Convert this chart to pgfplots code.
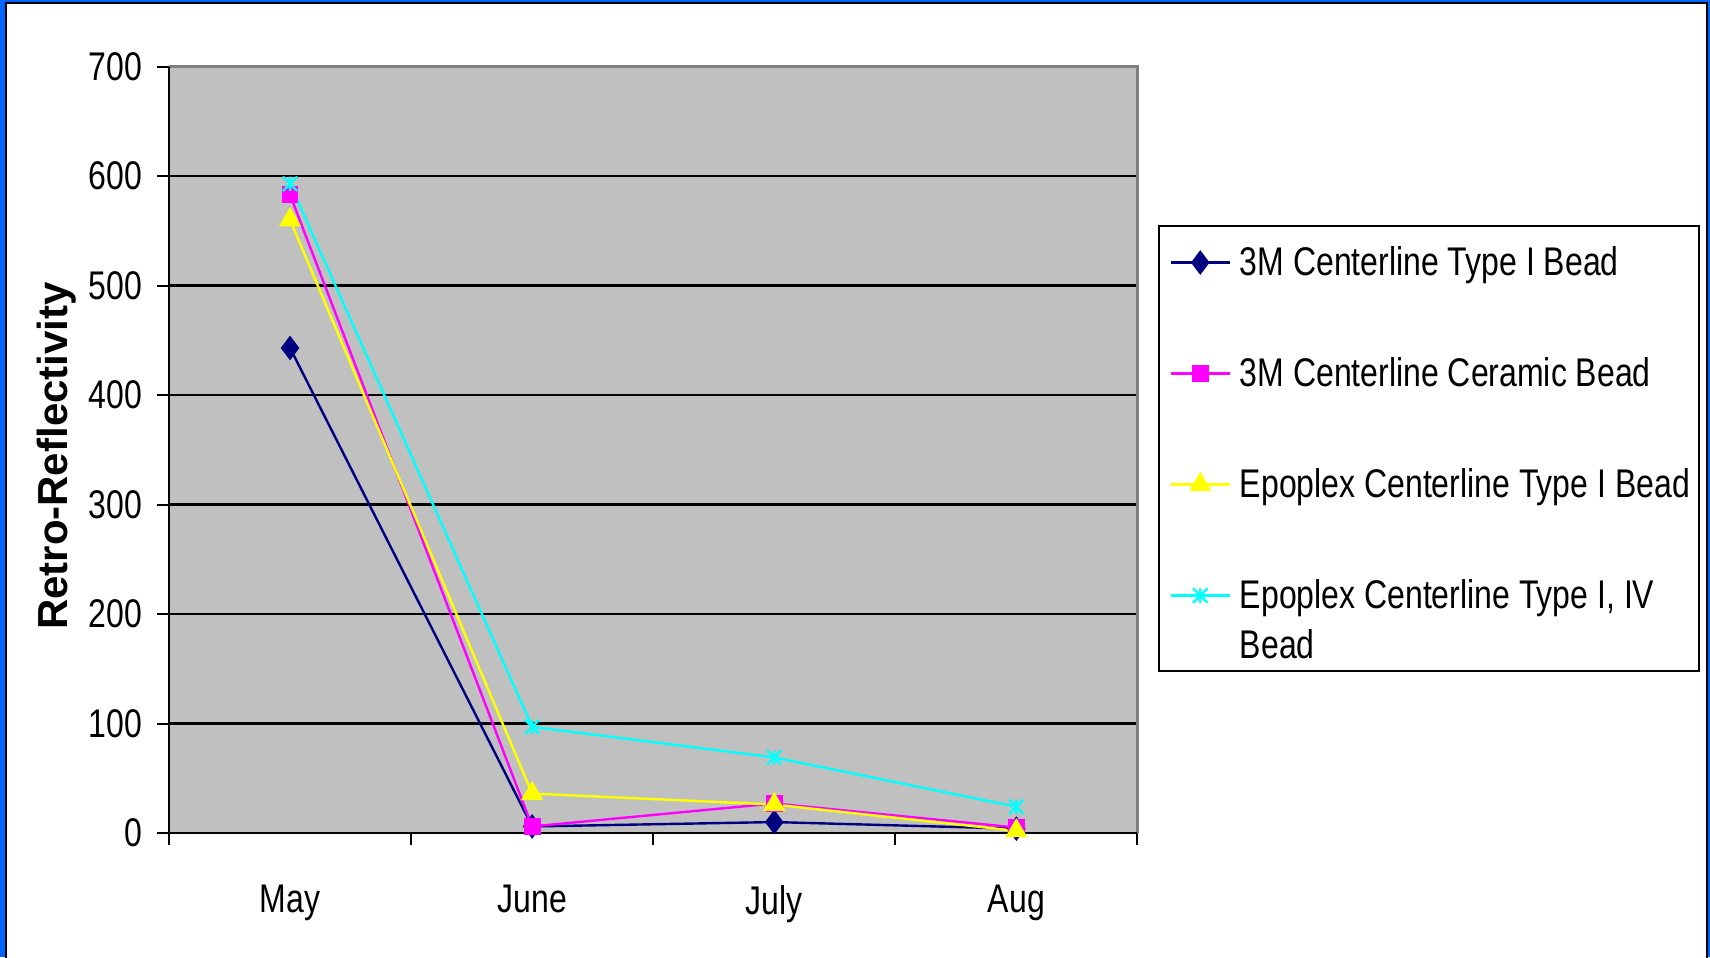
\documentclass[border=0pt]{standalone}
\usepackage{fontspec}
\setmainfont{Liberation Sans}[FakeStretch=0.8]
\newfontfamily\labfont{Liberation Sans}
\usepackage{pgfplots}
\pgfplotsset{compat=1.18}

\definecolor{frameblue}{RGB}{0,102,255}
\definecolor{plotgray}{RGB}{192,192,192}
\definecolor{bordergray}{RGB}{128,128,128}
\definecolor{sNavy}{RGB}{0,0,128}
\definecolor{sMagenta}{RGB}{255,0,255}
\definecolor{sYellow}{RGB}{255,255,0}
\definecolor{sCyan}{RGB}{0,255,255}

% Excel style star: an x with a vertical stroke
\pgfdeclareplotmark{xstar}{%
  \pgfpathmoveto{\pgfqpoint{-\pgfplotmarksize}{-\pgfplotmarksize}}%
  \pgfpathlineto{\pgfqpoint{\pgfplotmarksize}{\pgfplotmarksize}}%
  \pgfpathmoveto{\pgfqpoint{-\pgfplotmarksize}{\pgfplotmarksize}}%
  \pgfpathlineto{\pgfqpoint{\pgfplotmarksize}{-\pgfplotmarksize}}%
  \pgfpathmoveto{\pgfqpoint{0pt}{-\pgfplotmarksize}}%
  \pgfpathlineto{\pgfqpoint{0pt}{\pgfplotmarksize}}%
  \pgfusepathqstroke}

\begin{document}
\begin{tikzpicture}
\useasboundingbox (0,0) rectangle (427.5pt,239.25pt);
% slide frame
\fill[frameblue] (0,0) rectangle (427.5pt,239.25pt);
\filldraw[fill=white, draw=black, line width=0.5pt] (1.6pt,-5pt) rectangle (426.75pt,238.5pt);
% legend box
\draw[black, line width=0.5pt] (289.75pt,71.5pt) rectangle (424.75pt,182.75pt);

\begin{axis}[
    scale only axis,
    width=242.1pt, height=191.6pt,
    at={(42.25pt,31pt)}, anchor=south west,
    clip=false,
    xmin=-0.5, xmax=3.5,
    ymin=0, ymax=700,
    xtick={0,1,2,3},
    xticklabels={May,June,July,Aug},
    minor xtick={-0.5,0.5,1.5,2.5,3.5},
    major x tick style={draw=none},
    ytick={0,100,...,700},
    tick pos=left,
    tick align=outside,
    major tick length=3pt,
    minor tick length=3pt,
    tick style={black, line width=0.5pt},
    axis line style={draw=none},
    axis background/.style={fill=plotgray},
    ymajorgrids,
    major grid style={black, line width=0.6pt},
    /pgf/number format/assume math mode=true,
    tick label style={font=\fontsize{10}{12}\selectfont},
    yticklabel style={anchor=east, inner sep=0pt, xshift=-3.5pt},
    xticklabel style={anchor=north, inner sep=0pt, yshift=-9.9pt},
    ylabel={Retro-Reflectivity},
    ylabel style={at={(axis description cs:-0.1159,0.4918)}, anchor=center,
        font=\labfont\bfseries\fontsize{10.5}{12}\selectfont},
    legend cell align=left,
    legend image code/.code={\draw[mark repeat=2,mark phase=2]
        plot coordinates {(0pt,0pt) (7.4pt,0pt) (14.75pt,0pt)};},
    legend style={at={(axis description cs:1.0323,0.7707)}, anchor=north west,
        draw=none, fill=none, inner sep=0pt, row sep=18.05pt,
        font=\fontsize{10}{12.4}\selectfont,
        nodes={inner sep=0pt, text height=8.2pt, text depth=1.5pt},
        /tikz/every odd column/.append style={column sep=2.25pt}},
]
% axis frame: black left and bottom, gray top and right
\draw[bordergray, line width=0.6pt] (rel axis cs:0,1) -- (rel axis cs:1,1) -- (rel axis cs:1,0);
\draw[black, line width=0.6pt] (rel axis cs:0,1) -- (rel axis cs:0,0) -- (rel axis cs:1,0);

\addplot[sNavy, line width=0.6pt, mark=diamond*, mark size=2.6pt] coordinates {
    (0,443) (1,6) (2,10) (3,4)
};
\addlegendentry{3M Centerline Type I Bead}
\addplot[sMagenta, line width=0.6pt, mark=square*, mark size=1.8pt] coordinates {
    (0,583) (1,6) (2,27) (3,5)
};
\addlegendentry{3M Centerline Ceramic Bead}
\addplot[sYellow, line width=0.6pt, mark=triangle*, mark size=2.6pt] coordinates {
    (0,560) (1,36) (2,26) (3,2)
};
\addlegendentry{Epoplex Centerline Type I Bead}
\addplot[sCyan, line width=0.6pt, mark=xstar, mark size=1.8pt] coordinates {
    (0,593) (1,97) (2,69) (3,24)
};
\addlegendentry{\begin{tabular}[t]{@{}l@{}}Epoplex Centerline Type I, IV\\Bead\end{tabular}}
\end{axis}
\end{tikzpicture}
\end{document}
